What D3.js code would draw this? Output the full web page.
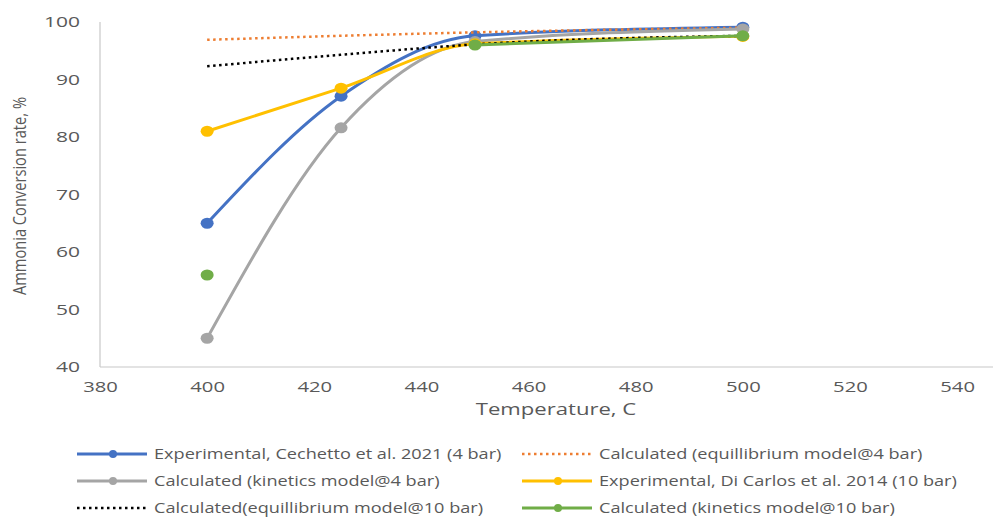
<!DOCTYPE html>
<html>
<head>
<meta charset="utf-8">
<script src="https://cdn.jsdelivr.net/npm/d3@7"></script>
<style>
  html, body { margin: 0; padding: 0; background: #fff; }
  svg { display: block; }
  text { font-family: "Open Sans", "Liberation Sans", sans-serif; fill: #595959; }
</style>
</head>
<body>
<svg id="chart" width="995" height="517"></svg>
<script>
// Temperatures (°C) at which each series was evaluated
const temperatures = [400, 425, 450, 500];

// Ammonia conversion (%) per series; null = no value at that temperature
const expCechetto4  = [65.0, 87.1, 97.6, 99.1];
const eqModel4      = [96.9, 97.6, 98.2, 99.0];
const kinModel4     = [45.0, 81.6, 96.6, 98.8];
const expDiCarlos10 = [81.0, 88.5, 96.2, 97.5];
const eqModel10     = [92.3, 94.3, 96.1, 97.6];
const kinModel10    = [56.0, null, 96.0, 97.6];

const seriesNames = [
  "Experimental, Cechetto et al. 2021 (4 bar)",
  "Calculated (equillibrium model@4 bar)",
  "Calculated (kinetics model@4 bar)",
  "Experimental, Di Carlos et al. 2014 (10 bar)",
  "Calculated(equillibrium model@10 bar)",
  "Calculated (kinetics model@10 bar)"
];

const xTicks = [380, 400, 420, 440, 460, 480, 500, 520, 540];
const yTicks = [40, 50, 60, 70, 80, 90, 100];

const series = [
  { name: seriesNames[0], values: expCechetto4, color: "#4472C4", dotted: false },
  { name: seriesNames[1], values: eqModel4, color: "#ED7D31", dotted: true },
  { name: seriesNames[2], values: kinModel4, color: "#A5A5A5", dotted: false },
  { name: seriesNames[3], values: expDiCarlos10, color: "#FFC000", dotted: false },
  { name: seriesNames[4], values: eqModel10, color: "#000000", dotted: true },
  { name: seriesNames[5], values: kinModel10, color: "#70AD47", dotted: false }
];

const svg = d3.select("#chart");

const x = d3.scaleLinear().domain([380, 546.7]).range([100, 993]);
const y = d3.scaleLinear().domain([40, 100]).range([367, 22]);

// widen a text element horizontally by a factor, keeping its anchor
function widen(sel, k) {
  sel.each(function () {
    const w = this.getComputedTextLength();
    d3.select(this).attr("textLength", w * k).attr("lengthAdjust", "spacingAndGlyphs");
  });
}

// Axis lines
svg.append("line").attr("x1", 100).attr("x2", 100).attr("y1", y(100)).attr("y2", y(40))
  .attr("stroke", "#C8C8C8").attr("stroke-width", 1.2);
svg.append("line").attr("x1", 100).attr("x2", 993).attr("y1", y(40)).attr("y2", y(40))
  .attr("stroke", "#C8C8C8").attr("stroke-width", 1.2);

// Y tick labels
const yAxis = d3.axisLeft(y).tickValues(yTicks).tickSize(0).tickPadding(0);
const gy = svg.append("g").attr("transform", "translate(80,0)").call(yAxis);
gy.select(".domain").remove();
gy.selectAll("text").style("font-size", "15px").attr("fill", "#595959").call(widen, 1.4);

// X tick labels
const xAxis = d3.axisBottom(x).tickValues(xTicks).tickSize(0).tickPadding(0);
const gx = svg.append("g").attr("transform", "translate(0,381)").call(xAxis);
gx.select(".domain").remove();
gx.selectAll("text").style("font-size", "15px").attr("fill", "#595959").call(widen, 1.35);

// Axis titles
svg.append("text")
  .attr("transform", "translate(26,196) rotate(-90)")
  .attr("text-anchor", "middle")
  .attr("textLength", 198).attr("lengthAdjust", "spacingAndGlyphs")
  .style("font-size", "18px")
  .text("Ammonia Conversion rate, %");

svg.append("text")
  .attr("x", 556).attr("y", 415)
  .attr("text-anchor", "middle")
  .style("font-size", "17px")
  .text("Temperature, C")
  .call(widen, 1.3);

// Series lines and markers
const line = d3.line()
  .defined(d => d.v !== null)
  .x(d => x(d.t))
  .y(d => y(d.v))
  .curve(d3.curveMonotoneX);

series.forEach(s => {
  const pts = temperatures.map((t, i) => ({ t, v: s.values[i] }));
  const valid = pts.filter(p => p.v !== null);
  const path = svg.append("path")
    .datum(pts)
    .attr("fill", "none")
    .attr("stroke", s.color)
    .attr("d", line);
  if (s.dotted) {
    path.attr("stroke-width", 2.5).attr("stroke-dasharray", "2.5,3.5");
  } else {
    path.attr("stroke-width", 3);
    svg.append("g").selectAll("ellipse").data(valid).join("ellipse")
      .attr("cx", d => x(d.t)).attr("cy", d => y(d.v))
      .attr("rx", 6.5).attr("ry", 5.5)
      .attr("fill", s.color);
  }
});

// Legend
const legendCols = [77, 522];
const legendRows = [454, 481, 508];
series.forEach((s, i) => {
  const col = i % 2, row = Math.floor(i / 2);
  const lx = legendCols[col], ly = legendRows[row];
  const g = svg.append("g");
  g.append("line").attr("x1", lx).attr("x2", lx + 70).attr("y1", ly).attr("y2", ly)
    .attr("stroke", s.color)
    .attr("stroke-width", s.dotted ? 2.5 : 3)
    .attr("stroke-dasharray", s.dotted ? "2.5,3.5" : null);
  if (!s.dotted) {
    g.append("circle").attr("cx", lx + 36).attr("cy", ly).attr("r", 4).attr("fill", s.color);
  }
  g.append("text").attr("x", lx + 77).attr("y", ly + 5)
    .style("font-size", "14.5px")
    .text(s.name)
    .call(widen, 1.25);
});
</script>
</body>
</html>
